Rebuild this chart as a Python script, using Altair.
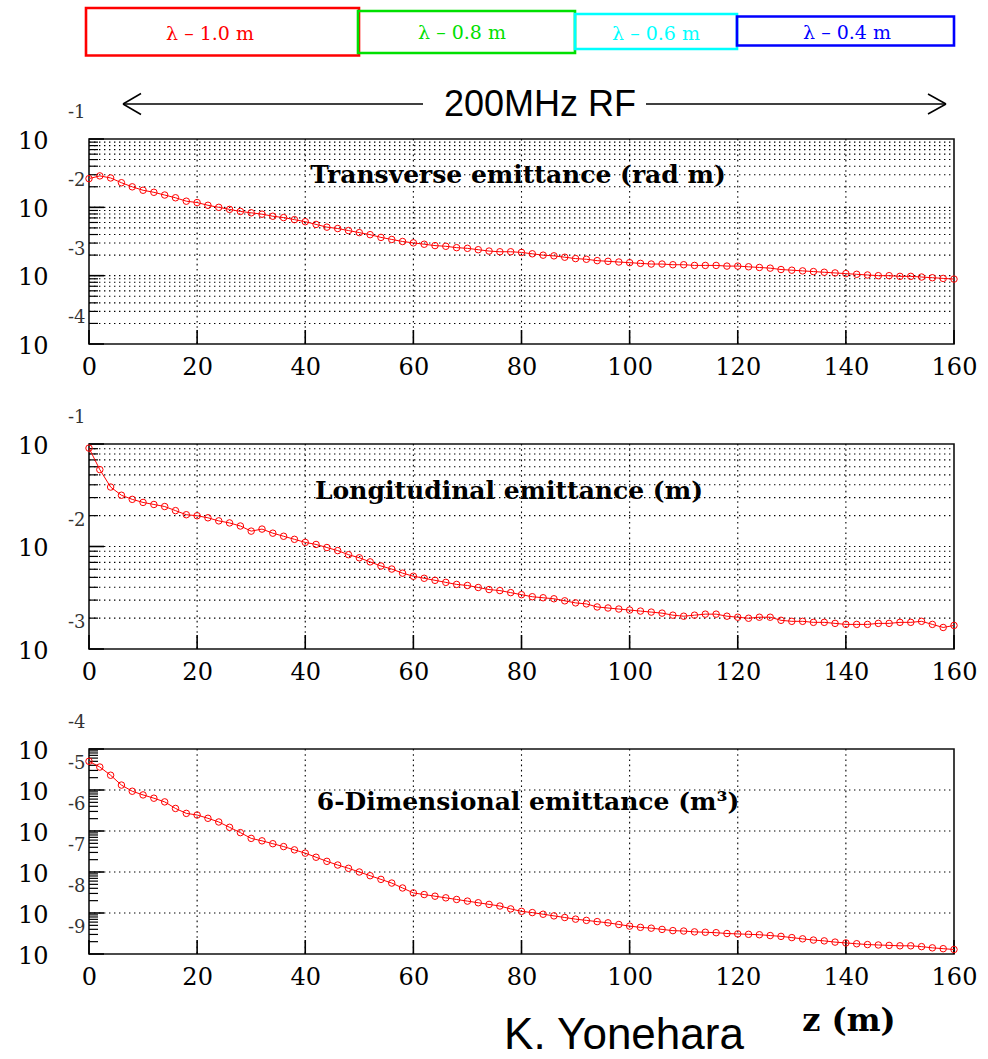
import altair as alt
import pandas as pd

# ---------------- data ----------------
Z_M = list(range(0, 161, 2))

TRANS_LOG10 = [-1.58, -1.54, -1.57, -1.64, -1.70, -1.75, -1.78, -1.82, -1.86, -1.91,
               -1.93, -1.97, -2.00, -2.03, -2.06, -2.08, -2.10, -2.13, -2.15, -2.18,
               -2.21, -2.25, -2.29, -2.31, -2.34, -2.37, -2.40, -2.44, -2.47, -2.50,
               -2.52, -2.54, -2.56, -2.57, -2.59, -2.60, -2.62, -2.64, -2.65, -2.65,
               -2.66, -2.68, -2.70, -2.71, -2.73, -2.75, -2.76, -2.78, -2.79, -2.80,
               -2.81, -2.82, -2.83, -2.83, -2.84, -2.84, -2.85, -2.85, -2.85, -2.86,
               -2.86, -2.87, -2.88, -2.89, -2.91, -2.92, -2.93, -2.94, -2.95, -2.96,
               -2.97, -2.98, -2.99, -3.00, -3.00, -3.01, -3.01, -3.02, -3.03, -3.04,
               -3.05]

LONG_LOG10 = [-1.04, -1.25, -1.42, -1.50, -1.54, -1.57, -1.59, -1.61, -1.65, -1.69,
              -1.70, -1.72, -1.75, -1.77, -1.80, -1.85, -1.83, -1.87, -1.90, -1.93,
              -1.96, -1.98, -2.01, -2.04, -2.08, -2.11, -2.15, -2.19, -2.22, -2.26,
              -2.29, -2.31, -2.33, -2.35, -2.37, -2.38, -2.40, -2.42, -2.43, -2.45,
              -2.47, -2.49, -2.50, -2.51, -2.53, -2.55, -2.56, -2.59, -2.60, -2.61,
              -2.62, -2.63, -2.64, -2.65, -2.67, -2.68, -2.67, -2.66, -2.66, -2.68,
              -2.69, -2.70, -2.69, -2.69, -2.72, -2.73, -2.73, -2.74, -2.74, -2.75,
              -2.76, -2.76, -2.76, -2.75, -2.75, -2.74, -2.74, -2.73, -2.76, -2.79,
              -2.77]

SIXD_LOG10 = [-4.30, -4.44, -4.64, -4.88, -5.03, -5.12, -5.20, -5.29, -5.45, -5.57,
              -5.61, -5.69, -5.78, -5.91, -6.04, -6.18, -6.24, -6.31, -6.38, -6.46,
              -6.54, -6.64, -6.74, -6.83, -6.91, -7.00, -7.09, -7.18, -7.27, -7.39,
              -7.51, -7.55, -7.59, -7.63, -7.67, -7.71, -7.75, -7.79, -7.83, -7.90,
              -7.96, -7.99, -8.03, -8.07, -8.11, -8.15, -8.18, -8.21, -8.24, -8.28,
              -8.32, -8.35, -8.37, -8.40, -8.43, -8.44, -8.46, -8.47, -8.48, -8.50,
              -8.51, -8.52, -8.53, -8.55, -8.57, -8.60, -8.63, -8.66, -8.68, -8.71,
              -8.73, -8.75, -8.77, -8.78, -8.79, -8.80, -8.80, -8.82, -8.85, -8.87,
              -8.89]

X_TICKS = [0, 20, 40, 60, 80, 100, 120, 140, 160]
Y_DECADES = [[-4, -3, -2, -1], [-3, -2, -1], [-9, -8, -7, -6, -5, -4]]
PANEL_TITLES = ["Transverse emittance (rad m)",
                "Longitudinal emittance (m)",
                "6-Dimensional emittance (m\u00b3)"]
LEGEND_LABELS = ["\u03bb \u2013 1.0 m", "\u03bb \u2013 0.8 m", "\u03bb \u2013 0.6 m", "\u03bb \u2013 0.4 m"]
LEGEND_COLORS = ["#ff0000", "#00e000", "#00ffff", "#0000ff"]
HEADER_TEXT = "200MHz RF"
X_TITLE = "z (m)"
AUTHOR = "K. Yonehara"

# ---------------- layout / style ----------------
W, H = 865, 205
SERIF = "DejaVu Serif"
SANS = "Liberation Sans"
# legend boxes (x0, x1, y0, y1, text x, text y) relative to first panel origin
LEG_BOXES = [(-3, 270, -131, -83.5, 121, -105),
             (269, 486, -128, -86, 373, -106),
             (486, 648, -125, -90, 567, -105),
             (648, 865, -122.5, -93.5, 758, -106)]
TITLE_POS = [(429, 44), (420, 55), (439, 61)]


def one_row():
    return pd.DataFrame({"k": [0]})


def text_at(txt, x, y, **kw):
    return alt.Chart(pd.DataFrame({"t": [txt]})).mark_text(**kw).encode(
        text="t:N", x=alt.value(x), y=alt.value(y))


def seg(x1, y1, x2, y2, w=1.5, color="#000"):
    return alt.Chart(one_row()).mark_rule(color=color, strokeWidth=w).encode(
        x=alt.value(x1), y=alt.value(y1), x2=alt.value(x2), y2=alt.value(y2))


def panel(idx, logs, minor_grid):
    decs = Y_DECADES[idx]
    dec_vals = [10.0 ** d for d in decs]
    minor_vals = [m * 10.0 ** d for d in decs[:-1] for m in range(2, 10)]
    grid_vals = dec_vals[1:-1] + (minor_vals if minor_grid else [])
    ysc = alt.Scale(type="log", domain=[dec_vals[0], dec_vals[-1]], nice=False)
    xsc = alt.Scale(domain=[0, 160], nice=False, zero=False)
    data = pd.DataFrame({"z": Z_M, "v": [10.0 ** l for l in logs]})

    xaxis = alt.Axis(values=X_TICKS, title=None, ticks=False, tickSize=0, domain=False,
                     grid=False, labelFont=SERIF, labelFontSize=24, labelColor="#000",
                     labelPadding=11, labelFlush=False, labelOverlap=False)
    yaxis = alt.Axis(values=dec_vals, labelExpr="'10'", title=None, ticks=False, tickSize=0,
                     domain=False, grid=False, labelFont=SERIF, labelFontSize=24,
                     labelColor="#000", labelPadding=41, labelOffset=2,
                     labelOverlap=False, labelFlush=False, labelBaseline="middle")
    X = lambda: alt.X("z:Q", scale=xsc, axis=xaxis)
    Y = lambda: alt.Y("v:Q", scale=ysc, axis=yaxis)

    hgrid = alt.Chart(pd.DataFrame({"v": grid_vals})).mark_rule(
        color="#000", strokeWidth=1.1, strokeDash=[1.4, 3.6]).encode(
        y=Y(), x=alt.value(0), x2=alt.value(W))
    vgrid = alt.Chart(pd.DataFrame({"z": X_TICKS[1:-1]})).mark_rule(
        color="#000", strokeWidth=1.1, strokeDash=[1.6, 3.6]).encode(
        x=X(), y=alt.value(0), y2=alt.value(H))
    xt = alt.Chart(pd.DataFrame({"z": X_TICKS})).mark_rule(
        color="#000", strokeWidth=1.6).encode(
        x=X(), y=alt.value(H), y2=alt.value(H - 14))
    ydt = alt.Chart(pd.DataFrame({"v": dec_vals})).mark_rule(
        color="#000", strokeWidth=1.6).encode(
        y=Y(), x=alt.value(0), x2=alt.value(15))
    ymt = alt.Chart(pd.DataFrame({"v": minor_vals})).mark_rule(
        color="#000", strokeWidth=1.2).encode(
        y=Y(), x=alt.value(0), x2=alt.value(9))

    line = alt.Chart(data).mark_line(color="#ff0000", strokeWidth=1).encode(x=X(), y=Y())
    pts = alt.Chart(data).mark_point(shape="circle", filled=False, color="#ff0000",
                                     size=42, strokeWidth=1, opacity=1).encode(x=X(), y=Y())

    exps = alt.Chart(pd.DataFrame({"v": dec_vals, "e": [str(d) for d in decs]})).mark_text(
        align="left", baseline="middle", dy=-26, font=SERIF, fontSize=18, color="#333").encode(
        y=Y(), x=alt.value(-21), text="e:N")

    tx, ty = TITLE_POS[idx]
    ttl = text_at(PANEL_TITLES[idx], tx, ty, font=SERIF, fontWeight="bold", fontSize=25,
                  align="center", baseline="alphabetic", color="#000")

    return [hgrid, vgrid, xt, ydt, ymt, line, pts, ttl, exps]


# ----- panel 1 with header -----
layers1 = panel(0, TRANS_LOG10, True)
# invisible anchor fixing the page's top-left corner
layers1.append(alt.Chart(one_row()).mark_rect(opacity=0).encode(
    x=alt.value(-88), x2=alt.value(-87), y=alt.value(-137.5), y2=alt.value(-136.5)))
for (x0, x1, y0, y1, lx, ly), lab, col in zip(LEG_BOXES, LEGEND_LABELS, LEGEND_COLORS):
    layers1.append(alt.Chart(one_row()).mark_rect(fill="white", fillOpacity=0, stroke=col,
                                                  strokeWidth=2.6).encode(
        x=alt.value(x0), x2=alt.value(x1), y=alt.value(y0), y2=alt.value(y1)))
    layers1.append(text_at(lab, lx, ly, font=SERIF, fontSize=19, color=col,
                           align="center", baseline="middle"))
# double arrow with label
AY = -35
layers1 += [seg(34, AY, 334, AY), seg(34, AY, 52, AY - 10.5), seg(34, AY, 52, AY + 10.5),
            seg(557, AY, 857, AY), seg(857, AY, 839, AY - 10), seg(857, AY, 839, AY + 10)]
layers1.append(text_at(HEADER_TEXT, 451, AY + 1, font=SANS, fontSize=36, color="#000",
                       align="center", baseline="middle"))
p1 = alt.layer(*layers1).properties(width=W, height=H)

# ----- panel 2 -----
p2 = alt.layer(*panel(1, LONG_LOG10, True)).properties(width=W, height=H)

# ----- panel 3 with footer -----
layers3 = panel(2, SIXD_LOG10, False)
layers3.append(text_at(X_TITLE, 760, 282, font=SERIF, fontWeight="bold", fontSize=32,
                       color="#000", align="center", baseline="alphabetic"))
layers3.append(text_at(AUTHOR, 535, 300, font=SANS, fontSize=44, color="#000",
                       align="center", baseline="alphabetic"))
p3 = alt.layer(*layers3).properties(width=W, height=H)

chart = alt.vconcat(p1, p2, p3, spacing=100, bounds="flush",
                    padding={"left": 0, "top": 0, "right": 0, "bottom": 2}).configure_view(
    stroke="#111", strokeWidth=1.6)

chart.save("out.html", embed_options={"renderer": "svg", "actions": False})
